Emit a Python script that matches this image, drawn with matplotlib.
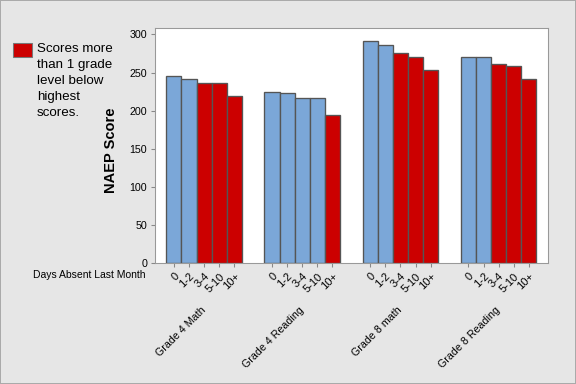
import numpy as np
import matplotlib as m
m.use('Agg')
import matplotlib.pyplot as plt
from matplotlib.patches import Rectangle

groups = ['Grade 4 Math', 'Grade 4 Reading', 'Grade 8 math', 'Grade 8 Reading']
days = ['0', '1-2', '3-4', '5-10', '10+']
scores = [
  [246, 241, 236, 236, 219],
  [225, 223, 217, 216, 194],
  [291, 286, 275, 271, 254],
  [271, 270, 261, 258, 242],
]
# True = more than 1 grade level below highest score
below = [
  [False, False, True, True, True],
  [False, False, False, False, True],
  [False, False, True, True, True],
  [False, False, True, True, True],
]

blue = '#7BA7D8'
red = '#CC0000'
edge = '#555555'
step = 6.5

plt.rcParams['font.family'] = ['Liberation Sans', 'DejaVu Sans']

fig = plt.figure(figsize=(6, 4), dpi=96, facecolor='#E6E6E6')
ax = fig.add_axes([0.2696, 0.3143, 0.6818, 0.612])

xs, labs = [], []
for g in range(len(groups)):
  for i in range(len(days)):
    x = g*step + i
    c = red if below[g][i] else blue
    ax.bar(x, scores[g][i], width=1.0, color=c, edgecolor=edge, linewidth=1.0)
    xs.append(x)
    labs.append(days[i])

ax.set_xlim(-1.23, (len(groups)-1)*step + 4 + 1.27)
ax.set_ylim(0, 308)
ax.set_yticks([0, 50, 100, 150, 200, 250, 300])
ax.set_xticks(xs)
ax.set_xticklabels(labs, rotation=45, ha='right', va='top', fontsize=8.3,
                   rotation_mode='anchor')
ax.tick_params(axis='x', length=3, color='#888888', pad=3)
ax.tick_params(axis='y', labelsize=8, length=3, color='#888888', pad=3)
for s in ax.spines.values():
  s.set_color('#999999')

fig.text(111/576., 1 - 150/384., 'NAEP Score', rotation=90, ha='center',
         va='center', fontsize=11, fontweight='bold')

for g, name in enumerate(groups):
  cx = g*step + 2
  xf = ax.transData.transform((cx, 0))[0] / fig.bbox.width
  fig.text(xf + 0.006, 1 - 305/384., name, rotation=45, ha='right', va='top',
           fontsize=8)

fig.text(33/576., 1 - 275/384., 'Days Absent Last Month', fontsize=7.8,
         va='center', ha='left')

fig.patches.append(Rectangle((13/576., 1 - 57/384.), 19/576., 14/384.,
                             transform=fig.transFigure, facecolor=red,
                             edgecolor='#777777', linewidth=0.8))
fig.patches.append(Rectangle((0, 0), 1, 1, transform=fig.transFigure,
                             facecolor='none', edgecolor='#AAAAAA', linewidth=1.5))
fig.text(37/576., 1 - 43/384., 'Scores more\nthan 1 grade\nlevel below\nhighest\nscores.',
         fontsize=10, va='top', ha='left', linespacing=1.45)

plt.savefig('out.png', dpi=96, facecolor=fig.get_facecolor())
